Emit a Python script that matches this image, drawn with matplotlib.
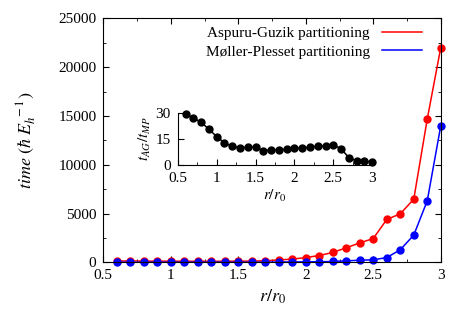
import numpy as np
import matplotlib
matplotlib.use("Agg")
import matplotlib.pyplot as plt
from matplotlib.ticker import MultipleLocator

plt.rcParams['font.family'] = ['Liberation Serif', 'DejaVu Serif']
plt.rcParams['mathtext.fontset'] = 'stix'

# data
r = [0.6, 0.7, 0.8, 0.9, 1.0, 1.1, 1.2, 1.3, 1.4, 1.5, 1.6, 1.7, 1.8,
     1.9, 2.0, 2.1, 2.2, 2.3, 2.4, 2.5, 2.6, 2.7, 2.8, 2.9, 3.0]
t_ag = [150, 150, 140, 130, 130, 120, 120, 120, 120, 130, 140, 170, 260,
        340, 500, 710, 1020, 1500, 2000, 2450, 4400, 4980, 6480, 14700, 22000]
t_mp = [20, 20, 20, 20, 20, 20, 20, 20, 20, 20, 20, 30, 40,
        50, 60, 70, 100, 160, 230, 270, 500, 1300, 2800, 6320, 14000]
ratio = [29.6, 27.3, 24.8, 20.7, 16.4, 12.7, 10.7, 9.9, 10.1, 10.3, 8.2, 8.6, 8.6,
         9.0, 9.6, 9.6, 10.3, 10.7, 11.1, 11.7, 9.2, 4.1, 2.3, 2.3, 1.4]
xticks = [0.5, 1, 1.5, 2, 2.5, 3]
xticklabels = ['0.5', '1', '1.5', '2', '2.5', '3']

fig = plt.figure(figsize=(4.63, 3.24), dpi=100)
ax = fig.add_axes([0.223, 0.190, 0.729, 0.7535])

ax.plot(r, t_ag, '-', color='red', lw=1.1, label='Aspuru-Guzik partitioning')
ax.plot(r, t_mp, '-', color='blue', lw=1.1, label='Møller-Plesset partitioning')
ax.plot(r, t_ag, 'o', color='red', ms=5, clip_on=False)
ax.plot(r, t_mp, 'o', color='blue', ms=5, clip_on=False)

ax.set_xlim(0.5, 3)
ax.set_ylim(0, 25000)
ax.set_xticks(xticks)
ax.set_xticklabels(xticklabels)
ax.xaxis.set_minor_locator(MultipleLocator(0.25))
ax.yaxis.set_major_locator(MultipleLocator(5000))
ax.yaxis.set_minor_locator(MultipleLocator(2500))
ax.tick_params(which='both', direction='in', top=True, right=True, labelsize=11)
ax.tick_params(which='major', length=4, pad=5)
ax.tick_params(which='minor', length=2.5)
ax.set_xlabel(r'$r/r_0$', fontsize=13, labelpad=4)
ax.set_ylabel(r'$time\ (\hbar\ E_h^{\ -1})$', fontsize=13, labelpad=14)

ax.legend(loc='upper right', frameon=False, markerfirst=False, fontsize=11,
          handlelength=2.6, labelspacing=0.3, borderaxespad=0.3,
          bbox_to_anchor=(0.975, 1.01))

# inset
ins = fig.add_axes([0.384, 0.4917, 0.420, 0.1586])
ins.plot(r, ratio, '-', color='black', lw=1.1)
ins.plot(r, ratio, 'o', color='black', ms=5, clip_on=False)
ins.set_xlim(0.5, 3)
ins.set_ylim(0, 30)
ins.set_yticks([0, 15, 30])
ins.set_xticks(xticks)
ins.set_xticklabels(xticklabels)
ins.xaxis.set_minor_locator(MultipleLocator(0.25))
ins.spines['top'].set_visible(False)
ins.spines['right'].set_visible(False)
ins.tick_params(which='both', direction='in', labelsize=11)
ins.tick_params(which='major', length=4, pad=5)
ins.tick_params(which='minor', length=2.5)
ins.set_xlabel(r'$r/r_0$', fontsize=11, labelpad=2)
ins.set_ylabel(r'$t_{AG}/t_{MP}$', fontsize=11, labelpad=2)

fig.savefig('out.png', dpi=100)
